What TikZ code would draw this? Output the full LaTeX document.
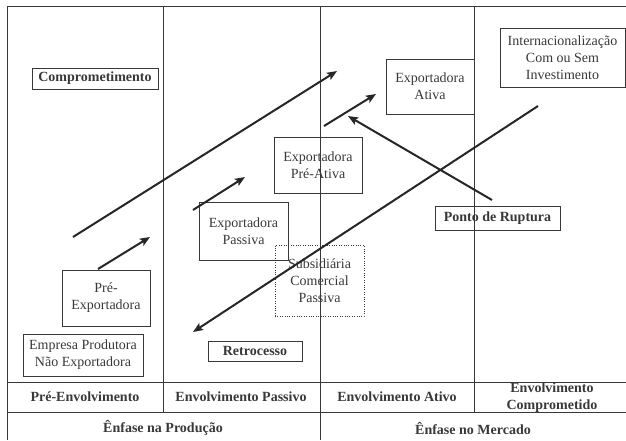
\documentclass[tikz,border=0pt]{standalone}
\usepackage{fontspec}
\setmainfont{Liberation Serif}
\usetikzlibrary{arrows.meta}
\definecolor{ink}{gray}{0.22}

\tikzset{
  stagebox/.style={draw=ink, text=ink, align=center, inner sep=2pt,
    font=\fontsize{14}{17}\selectfont},
  tagbox/.style={stagebox, font=\fontsize{14}{17}\selectfont\bfseries},
  phase/.style={text=ink, align=center, font=\fontsize{14}{17}\selectfont\bfseries},
  grid/.style={draw=ink, line width=0.8pt},
  move/.style={draw=black!85, line width=2pt, -{Stealth[length=10pt,width=8pt,inset=2pt]}},
}

\begin{document}
\begin{tikzpicture}[x=1pt,y=-1pt]
\useasboundingbox (0,0) rectangle (626,440);
% quadro
\draw[grid] (626,6) -- (7,6) -- (7,440);
\draw[grid] (163,6) -- (163,412);
\draw[grid] (320,6) -- (320,440);
\draw[grid] (474,6) -- (474,412);
\draw[grid] (7,382) -- (626,382);
\draw[grid] (7,412) -- (626,412);
%
\node[phase] (preenv) at (85,397) {Pré-Envolvimento};
\node[phase] (passenv) at (241,397) {Envolvimento Passivo};
\node[phase] (ativenv) at (397,397) {Envolvimento Ativo};
\node[phase] (compenv) at (552,398) {Envolvimento\\Comprometido};
\node[phase] (producao) at (163,428) {Ênfase na Produção};
\node[phase] (mercado) at (473,428) {Ênfase no Mercado};
%
\node[tagbox, minimum width=126pt, minimum height=21pt] (comp) at (95,78.5) {Comprometimento};
\node[tagbox, minimum width=94pt, minimum height=20pt] (retro) at (255,351) {Retrocesso};
\node[tagbox, minimum width=125pt, minimum height=24pt] (ruptura) at (497.5,218) {Ponto de Ruptura};
%
\node[stagebox, minimum width=120pt, minimum height=42pt] (naoexp) at (83,355) {Empresa Produtora\\Não Exportadora};
\node[stagebox, minimum width=88pt, minimum height=56pt] (preexp) at (106,298) {Pré-\\Exportadora};
\node[stagebox, minimum width=89pt, minimum height=58pt] (passiva) at (243.5,231) {Exportadora\\Passiva};
\node[stagebox, dotted, minimum width=89pt, minimum height=71pt] (subsid) at (319.5,280.5) {Subsidiária\\Comercial\\Passiva};
\node[stagebox, minimum width=88pt, minimum height=56pt] (preativa) at (318,165) {Exportadora\\Pré-Ativa};
\node[stagebox, minimum width=88pt, minimum height=55pt] (ativa) at (430,86.5) {Exportadora\\Ativa};
\node[stagebox, minimum width=125pt, minimum height=59pt, anchor=center] (inter) at (562.5,57.5) {Internacionalização\\Com ou Sem\\Investimento};
%
\coordinate (c1) at (73,237);
\coordinate (c2) at (337,71);
\coordinate (p1) at (98,269);
\coordinate (p2) at (150,237);
\coordinate (s1) at (193,210);
\coordinate (s2) at (245,177);
\coordinate (a1) at (324,126);
\coordinate (a2) at (376,94);
\coordinate (r1) at (492,200);
\coordinate (r2) at (348,116);
\coordinate (b1) at (538,106);
\coordinate (b2) at (193,332);
%
\draw[move] (c1) -- (c2);
\draw[move] (p1) -- (p2);
\draw[move] (s1) -- (s2);
\draw[move] (a1) -- (a2);
\draw[move] (r1) -- (r2);
\draw[move] (b1) -- (b2);
\end{tikzpicture}
\end{document}
